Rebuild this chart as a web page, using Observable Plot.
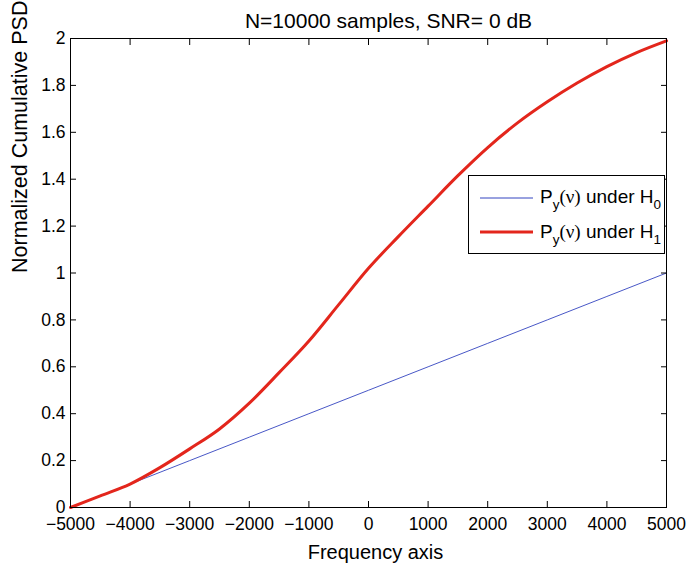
<!DOCTYPE html>
<html>
<head>
<meta charset="utf-8">
<script src="https://cdn.jsdelivr.net/npm/d3@7"></script>
<script src="https://cdn.jsdelivr.net/npm/@observablehq/plot@0.6"></script>
<style>
  html, body { margin: 0; padding: 0; background: #fff; }
  #wrap { position: relative; width: 689px; height: 563px; font-family: "Liberation Sans", Arial, Helvetica, sans-serif; }
  #legend { position: absolute; left: 468px; top: 175px; }
</style>
</head>
<body>
<div id="wrap"></div>
<script>
// ---- data ----
const titleText = "N=10000 samples, SNR= 0 dB";
const xLabel = "Frequency axis";
const yLabel = "Normalized Cumulative PSD";
const xTicks = [-5000, -4000, -3000, -2000, -1000, 0, 1000, 2000, 3000, 4000, 5000];
const yTicks = [0, 0.2, 0.4, 0.6, 0.8, 1, 1.2, 1.4, 1.6, 1.8, 2];

const freqH1 = [-5000, -4500, -4000, -3500, -3000, -2500, -2000, -1500, -1000, -500, 0, 500, 1000, 1500, 2000, 2500, 3000, 3500, 4000, 4500, 5000];
const psdH1  = [0, 0.05, 0.10, 0.17, 0.25, 0.335, 0.445, 0.575, 0.71, 0.865, 1.02, 1.155, 1.285, 1.415, 1.535, 1.64, 1.73, 1.81, 1.88, 1.94, 1.99];

const freqH0 = [-5000, -4000, -3000, -2000, -1000, 0, 1000, 2000, 3000, 4000, 5000];
const psdH0  = [0, 0.1, 0.2, 0.3, 0.4, 0.5, 0.6, 0.7, 0.8, 0.9, 1.0];

const seriesNames = ["H0", "H1"];
const seriesColors = ["#3344c0", "#e3261c"];
const seriesWidths = [0.9, 3];

// ---- build tables ----
const h0 = freqH0.map((f, i) => ({f, v: psdH0[i]}));
const h1 = freqH1.map((f, i) => ({f, v: psdH1[i]}));

const font = "Liberation Sans, Arial, Helvetica, sans-serif";
const fmt = d3.format("");

const chart = Plot.plot({
  width: 689,
  height: 563,
  marginLeft: 70,
  marginRight: 23,
  marginTop: 38,
  marginBottom: 56,
  style: {fontFamily: font, color: "#000", background: "#fff", overflow: "visible"},
  x: {domain: [-5000, 5000], label: null},
  y: {domain: [0, 2], label: null},
  marks: [
    Plot.line(h0, {x: "f", y: "v", stroke: seriesColors[0], strokeWidth: seriesWidths[0]}),
    Plot.line(h1, {x: "f", y: "v", stroke: seriesColors[1], strokeWidth: seriesWidths[1], curve: "monotone-x"}),
    Plot.frame({stroke: "#000", strokeWidth: 1}),
    // tick labels
    Plot.axisX({anchor: "bottom", ticks: xTicks, tickFormat: fmt, tickSize: 0, tickPadding: 10, fontSize: 17.5, label: null}),
    Plot.axisY({anchor: "left", ticks: yTicks, tickFormat: fmt, tickSize: 0, tickPadding: 5, fontSize: 17.5, label: null}),
    // inward ticks on all four sides
    Plot.axisX({anchor: "bottom", ticks: xTicks, tickSize: -6, fill: "none", label: null}),
    Plot.axisX({anchor: "top", ticks: xTicks, tickSize: -6, fill: "none", label: null}),
    Plot.axisY({anchor: "left", ticks: yTicks, tickSize: -6, fill: "none", label: null}),
    Plot.axisY({anchor: "right", ticks: yTicks, tickSize: -6, fill: "none", label: null}),
    // title and axis labels
    Plot.text([titleText], {frameAnchor: "top", dy: -11, dx: 20, fontSize: 21, lineAnchor: "bottom"}),
    Plot.text([xLabel], {frameAnchor: "bottom", dy: 51, dx: 7, fontSize: 20, lineAnchor: "bottom"}),
    Plot.text([yLabel], {frameAnchor: "left", dx: -50, rotate: -90, fontSize: 21.5})
  ]
});

const wrap = document.getElementById("wrap");
wrap.appendChild(chart);

// ---- legend (inside plot area) ----
const lg = document.createElement("div");
lg.id = "legend";
const rows = seriesNames.map((name, i) => {
  const y = i === 0 ? 23 : 57;
  const base = i === 0 ? 28 : 63;
  return `<line x1="12" x2="65" y1="${y}" y2="${y}" stroke="${seriesColors[i]}" stroke-width="${seriesWidths[i] === 3 ? 3 : 1}"/>
  <text x="72" y="${base}" font-size="19" font-family="${font}">P<tspan font-size="13.5" dy="6">y</tspan><tspan dy="-6" font-family="Liberation Serif, Times New Roman, serif">(ν)</tspan> under H<tspan font-size="13.5" dy="6">${name.slice(1)}</tspan></text>`;
}).join("");
lg.innerHTML = `<svg width="197" height="79" xmlns="http://www.w3.org/2000/svg">
  <rect x="0.5" y="0.5" width="196" height="78" fill="#fff" stroke="#000" stroke-width="1"/>
  ${rows}
</svg>`;
wrap.appendChild(lg);
</script>
</body>
</html>
